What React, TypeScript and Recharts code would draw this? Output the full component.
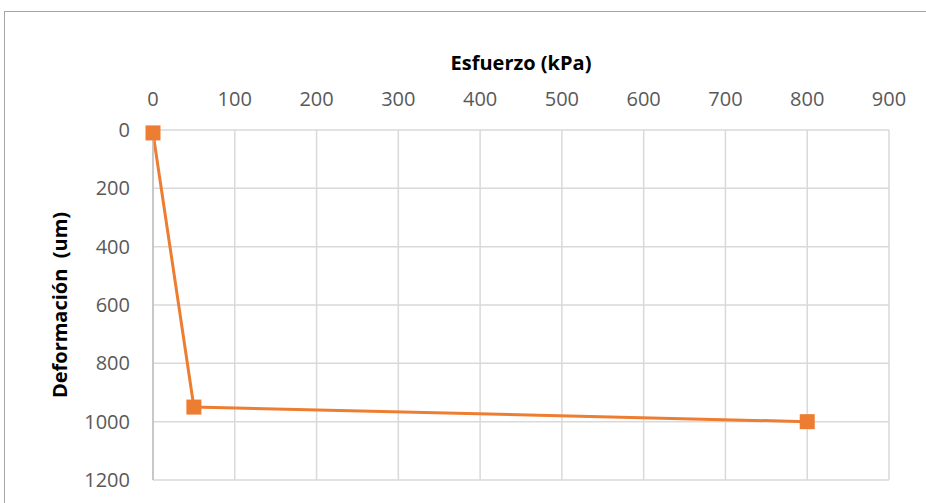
import { LineChart, Line, XAxis, YAxis, CartesianGrid } from "recharts";

// Esfuerzo vs deformación, ejes estilo Excel (X arriba, Y invertido)
const esfuerzo = [0, 50, 800];
const deformacion = [10, 950, 1000];
const xTicks = [0, 100, 200, 300, 400, 500, 600, 700, 800, 900];
const yTicks = [0, 200, 400, 600, 800, 1000, 1200];

const data = esfuerzo.map((x, i) => ({ x, y: deformacion[i] }));

const ORANGE = "#ED7D31";
const FONT = "'Open Sans', sans-serif";

function SquareDot(props: any) {
  const { cx, cy } = props;
  if (cx == null || cy == null) return null;
  return <rect x={cx - 7.5} y={cy - 7.5} width={15} height={15} fill={ORANGE} />;
}

export default function App() {
  return (
    <div style={{ position: "absolute", left: 0, top: 0, width: 926, height: 503, overflow: "hidden", background: "#fff" }}>
      <div
        style={{
          position: "absolute",
          left: 4,
          top: 11,
          width: 940,
          height: 520,
          border: "1px solid #a6a6a6",
        }}
      />
      <div style={{ position: "absolute", left: 0, top: 0 }}>
        <LineChart width={926} height={503} data={data} margin={{ top: 90, right: 37, left: 0, bottom: 23 }}>
          <CartesianGrid stroke="#d9d9d9" strokeWidth={1.5} />
          <XAxis
            xAxisId={0}
            type="number"
            dataKey="x"
            orientation="top"
            domain={[0, 900]}
            ticks={xTicks}
            height={40}
            axisLine={false}
            tickLine={false}
            tickSize={0}
            tickMargin={24}
            tick={{ fontSize: 20, fill: "#595959", fontFamily: FONT }}
            label={{
              value: "Esfuerzo (kPa)",
              position: "top",
              offset: 20,
              style: { fontSize: 20, fontWeight: 700, fill: "#000", fontFamily: FONT },
            }}
          />
          <YAxis
            yAxisId={0}
            type="number"
            dataKey="y"
            reversed
            domain={[0, 1200]}
            ticks={yTicks}
            width={153}
            axisLine={{ stroke: "#bfbfbf", strokeWidth: 1.5 }}
            tickLine={false}
            tickSize={0}
            tickMargin={23}
            tick={{ fontSize: 20, fill: "#595959", fontFamily: FONT }}
            label={{
              value: "Deformación\u00a0 (um)",
              angle: -90,
              position: "center",
              dx: -17,
              style: { fontSize: 20, fontWeight: 700, fill: "#000", fontFamily: FONT },
            }}
          />
          <Line
            type="linear"
            dataKey="y"
            stroke={ORANGE}
            strokeWidth={3}
            dot={<SquareDot />}
            activeDot={false}
            isAnimationActive={false}
          />
        </LineChart>
      </div>
    </div>
  );
}
